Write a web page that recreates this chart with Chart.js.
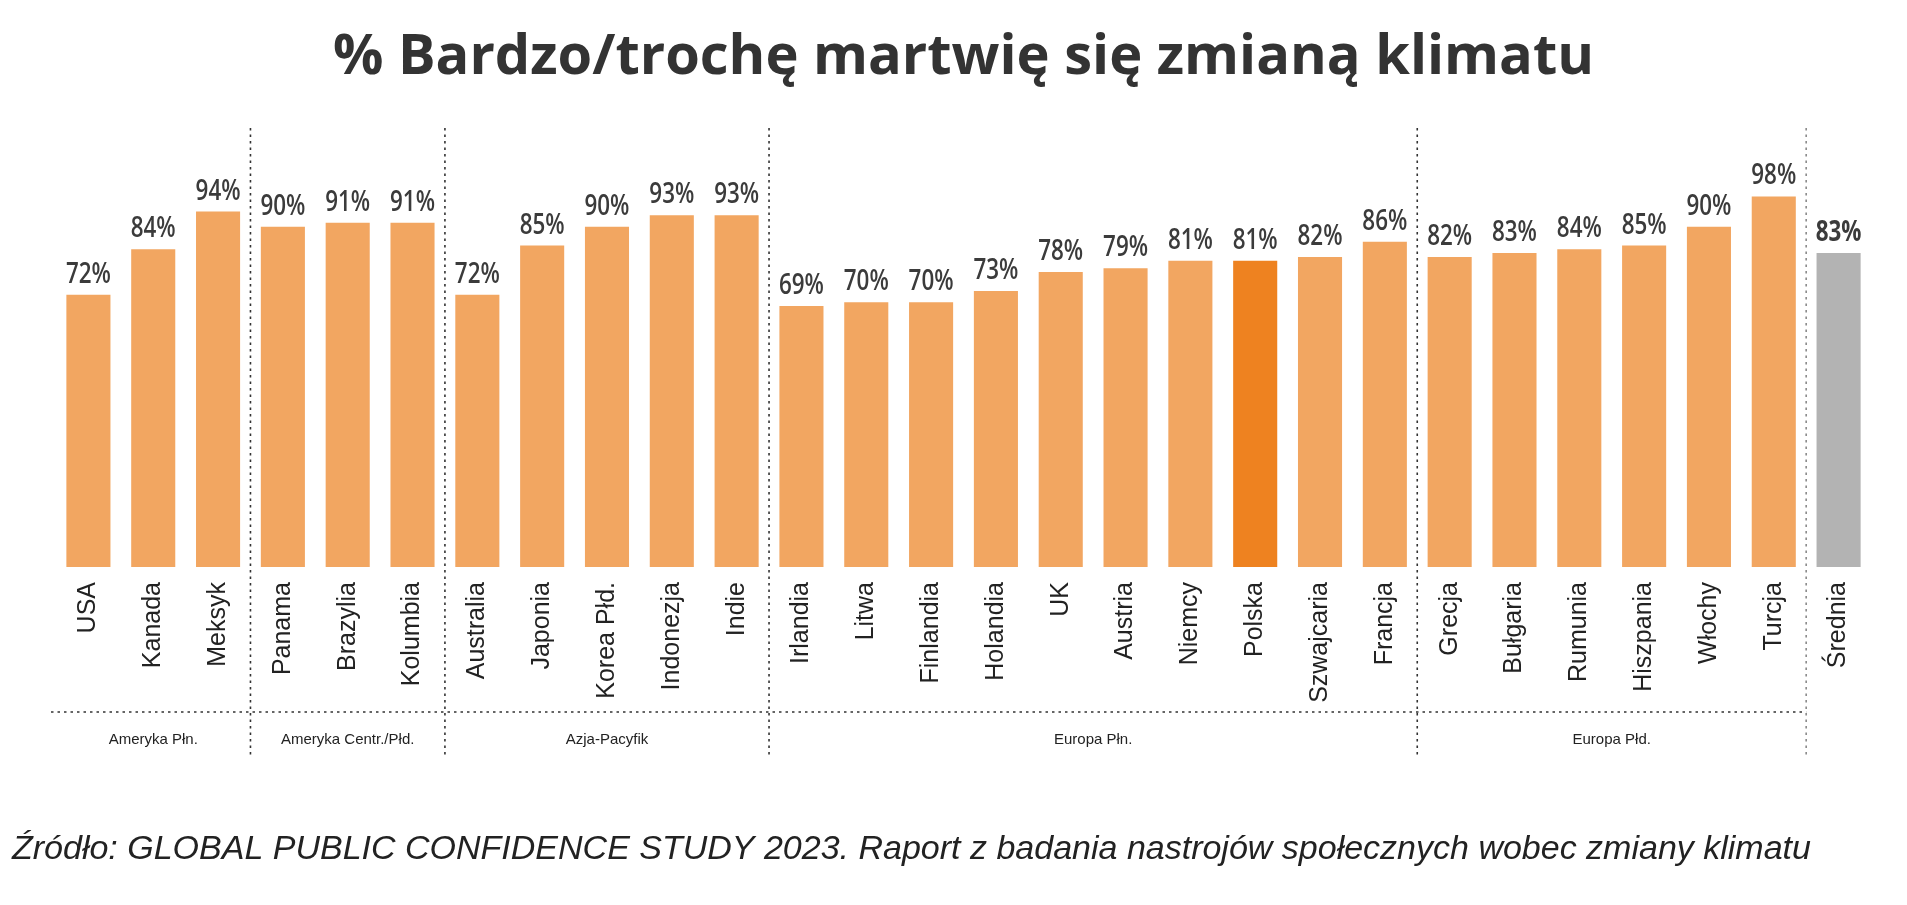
<!DOCTYPE html>
<html>
<head>
<meta charset="utf-8">
<script src="https://cdn.jsdelivr.net/npm/chart.js@4/dist/chart.umd.min.js"></script>
<style>
  html, body { margin: 0; padding: 0; background: #fff; }
  #wrap { width: 1907px; height: 905px; position: relative; }
</style>
</head>
<body>
<div id="wrap"><canvas id="chart"></canvas></div>
<script>
// dane
var countries = ['USA', 'Kanada', 'Meksyk', 'Panama', 'Brazylia', 'Kolumbia',
  'Australia', 'Japonia', 'Korea Płd.', 'Indonezja', 'Indie',
  'Irlandia', 'Litwa', 'Finlandia', 'Holandia', 'UK', 'Austria', 'Niemcy', 'Polska', 'Szwajcaria', 'Francja',
  'Grecja', 'Bułgaria', 'Rumunia', 'Hiszpania', 'Włochy', 'Turcja', 'Średnia'];
var values = [72, 84, 94, 90, 91, 91,
  72, 85, 90, 93, 93,
  69, 70, 70, 73, 78, 79, 81, 81, 82, 86,
  82, 83, 84, 85, 90, 98, 83];
var groupNames = ['Ameryka Płn.', 'Ameryka Centr./Płd.', 'Azja-Pacyfik', 'Europa Płn.', 'Europa Płd.'];
var groupSizes = [3, 3, 5, 10, 6];
var highlight = 'Polska';
var average = 'Średnia';
var titleText = '% Bardzo/trochę martwię się zmianą klimatu';
var sourceText = 'Źródło: GLOBAL PUBLIC CONFIDENCE STUDY 2023. Raport z badania nastrojów społecznych wobec zmiany klimatu';

var barColors = countries.map(function (c) {
  if (c === highlight) return '#ee8220';
  if (c === average) return '#b3b3b3';
  return '#f2a661';
});

// etykiety wartosci nad slupkami
var valueLabels = {
  id: 'valueLabels',
  afterDatasetsDraw: function (chart) {
    var ctx = chart.ctx;
    var meta = chart.getDatasetMeta(0);
    ctx.save();
    ctx.fillStyle = '#3b3b3b';
    ctx.textAlign = 'center';
    ctx.textBaseline = 'alphabetic';
    meta.data.forEach(function (bar, i) {
      var bold = countries[i] === average ? '700' : '600';
      ctx.font = bold + ' 28px "Open Sans"';
      ctx.save();
      ctx.translate(bar.x, bar.y - 12);
      ctx.scale(0.8, 1);
      ctx.fillText(values[i] + '%', 0, 0);
      ctx.restore();
    });
    ctx.restore();
  }
};

// linie grup, nazwy grup, zrodlo
var groupLines = {
  id: 'groupLines',
  afterDraw: function (chart) {
    var ctx = chart.ctx;
    var xs = chart.scales.x;
    var half = (xs.getPixelForValue(1) - xs.getPixelForValue(0)) / 2;
    var yTop = 128, yBot = 755, yLine = 712, yLabel = 740;
    ctx.save();
    ctx.lineWidth = 1.6;
    ctx.setLineDash([2.5, 4]);

    var start = 0;
    var bounds = [xs.getPixelForValue(0) - half];
    groupSizes.forEach(function (n) {
      start += n;
      bounds.push(xs.getPixelForValue(start) - half);
    });

    // pionowe
    for (var i = 1; i < bounds.length; i++) {
      ctx.strokeStyle = i === bounds.length - 1 ? '#8a8a8a' : '#333';
      ctx.beginPath();
      ctx.moveTo(bounds[i], yTop);
      ctx.lineTo(bounds[i], yBot);
      ctx.stroke();
    }
    // pozioma
    ctx.strokeStyle = '#333';
    ctx.beginPath();
    ctx.moveTo(bounds[0] - 5, yLine);
    ctx.lineTo(bounds[bounds.length - 1], yLine);
    ctx.stroke();

    ctx.setLineDash([]);
    ctx.fillStyle = '#222';
    ctx.font = '15px "Liberation Sans", Arial';
    ctx.textAlign = 'center';
    ctx.textBaseline = 'middle';
    groupNames.forEach(function (g, k) {
      ctx.fillText(g, (bounds[k] + bounds[k + 1]) / 2, yLabel);
    });

    ctx.font = 'italic 34px "Liberation Sans", Arial';
    ctx.textAlign = 'left';
    ctx.fillStyle = '#222';
    ctx.fillText(sourceText, 12, 850);
    ctx.restore();
  }
};

var ctx = document.getElementById('chart');
var chart = new Chart(ctx, {
  type: 'bar',
  data: {
    labels: countries,
    datasets: [{
      data: values,
      backgroundColor: barColors,
      barPercentage: 0.68,
      categoryPercentage: 1
    }]
  },
  options: {
    responsive: true,
    maintainAspectRatio: false,
    animation: false,
    layout: { padding: { left: 56, right: 36, top: 0, bottom: 0 } },
    plugins: {
      legend: { display: false },
      tooltip: { enabled: false },
      title: {
        display: true,
        text: titleText,
        color: '#333',
        font: { family: '"Open Sans"', size: 56, weight: '700', lineHeight: 1.2 },
        padding: { top: 24, bottom: 22 }
      }
    },
    scales: {
      x: {
        grid: { display: false, drawTicks: false },
        border: { display: false },
        ticks: {
          autoSkip: false,
          minRotation: 90,
          maxRotation: 90,
          padding: 15,
          color: '#222',
          font: { family: '"Liberation Sans", Arial', size: 25 }
        },
        afterFit: function (scale) { scale.height = 338; }
      },
      y: {
        display: false,
        min: 0,
        max: 120
      }
    }
  },
  plugins: [valueLabels, groupLines]
});
</script>
</body>
</html>
